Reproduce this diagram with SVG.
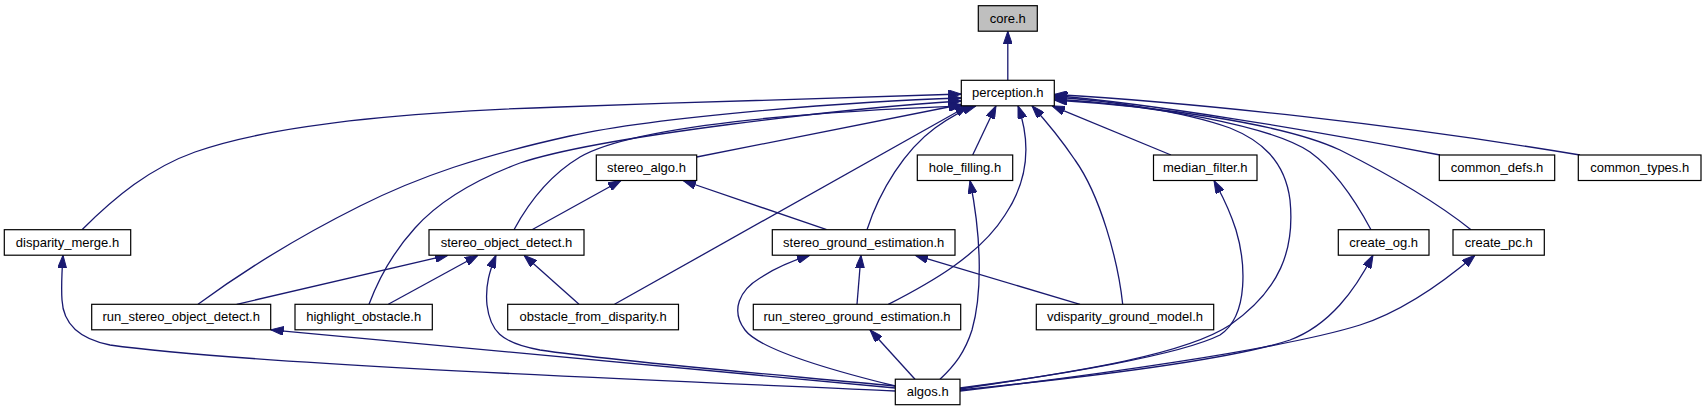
<svg xmlns="http://www.w3.org/2000/svg" width="1707" height="411" viewBox="0 0 1707 411">
<style>
.n rect{fill:#fff;stroke:#000;stroke-width:1.2}
.n.root rect{fill:#bfbfbf}
.n text{font-family:"Liberation Sans",Arial,sans-serif;font-size:13px;text-anchor:middle;fill:#000}
#edges path{fill:none;stroke:#191970;stroke-width:1.3;marker-end:url(#ah)}
</style>
<defs>
<marker id="ah" markerUnits="userSpaceOnUse" markerWidth="13" markerHeight="9" viewBox="0 0 13 9" refX="13" refY="4.5" orient="auto">
<path d="M0,0 L13,4.5 L0,9 z" fill="#191970" stroke="#191970" stroke-width="1"/>
</marker>
</defs>
<rect width="1707" height="411" fill="#fff"/>
<g id="edges">
<path d="M1007.8,80.3 L1007.8,31.2"/>
<path d="M82,229.7 C115,197 150,168 195,152 C280,122 430,111 560,107 C700,102 860,97 961.3,94"/>
<path d="M198,304.3 C250,266 300,236 360,206 C420,176 480,156 570,136 C660,116 860,101 961.3,98"/>
<path d="M369,304.3 C380,275 395,250 415,228 C440,200 480,178 520,163 C600,136 850,108 961.3,101"/>
<path d="M514,229.7 C530,200 550,175 580,157 C640,122 850,110 963,105.8"/>
<path d="M696.7,157 L961.3,104.5"/>
<path d="M614.5,304.3 L968,105.8"/>
<path d="M867,229.7 C880,190 905,150 935,128 C950,117 963,110 976,105.8"/>
<path d="M972.7,155 L996,105.8"/>
<path d="M888.3,304.3 C930,283 980,255 1005,215 C1030,178 1030,140 1018,105.8"/>
<path d="M1122.7,304.3 C1118,260 1100,195 1075,160 C1058,135 1045,120 1032,105.8"/>
<path d="M1171,155 L1052,105.8"/>
<path d="M960,389 C1050,375 1180,358 1230,325 C1280,290 1295,250 1290,200 C1285,160 1260,140 1230,128 C1180,110 1100,100 1054.3,97"/>
<path d="M1371,229.7 C1355,200 1335,170 1310,152 C1270,125 1150,105 1054.3,99"/>
<path d="M1471,229.7 C1440,205 1390,175 1340,150 C1280,122 1150,106 1054.3,100"/>
<path d="M1440,155 C1300,128 1150,104 1054.3,95.5"/>
<path d="M1580,155 C1400,125 1200,103 1054.3,94.5"/>
<path d="M532,229.7 L621,180.5"/>
<path d="M826.7,229.7 L683,180.5"/>
<path d="M236.7,304.3 L448,255.2"/>
<path d="M388.3,304.3 L478,255.2"/>
<path d="M579,304.3 L524,255.2"/>
<path d="M895.3,386 C780,375 620,362 540,350 C500,343 490,330 487,305 C485,285 490,270 496,255.2"/>
<path d="M895.3,386 C830,370 760,350 745,330 C730,310 740,290 760,278 C775,268 795,260 810,255.2"/>
<path d="M857,304.3 L861,255.2"/>
<path d="M1080,304.3 L915,255.2"/>
<path d="M915,379.2 L870,329.8"/>
<path d="M940,379.2 C955,365 965,352 972,330 C982,295 982,240 970,180.5"/>
<path d="M960,388 C1060,375 1180,355 1220,335 C1250,315 1245,260 1236,230 C1228,205 1220,192 1214,180.5"/>
<path d="M960,390 C1080,378 1230,360 1290,340 C1330,325 1355,290 1373,255.2"/>
<path d="M960,391 C1080,377 1280,350 1360,325 C1400,312 1440,285 1475,255.2"/>
<path d="M895.3,391 C700,382 250,365 110,345 C75,338 63,320 62,300 C61,285 62,270 63,255.2"/>
<path d="M895.3,388 L270.7,329.8"/>
</g>
<g id="core" class="n root"><rect x="978.3" y="5.7" width="59" height="25.5"/><text x="1007.8" y="22.7">core.h</text></g>
<g id="perception" class="n"><rect x="961.3" y="80.3" width="93" height="25.5"/><text x="1007.8" y="97.3">perception.h</text></g>
<g id="stereo_algo" class="n"><rect x="596.3" y="155" width="100.4" height="25.5"/><text x="646.5" y="172">stereo_algo.h</text></g>
<g id="hole_filling" class="n"><rect x="917.3" y="155" width="95.4" height="25.5"/><text x="965" y="172">hole_filling.h</text></g>
<g id="median_filter" class="n"><rect x="1153.5" y="155" width="103.5" height="25.5"/><text x="1205.3" y="172">median_filter.h</text></g>
<g id="common_defs" class="n"><rect x="1439.3" y="155" width="115.4" height="25.5"/><text x="1497" y="172">common_defs.h</text></g>
<g id="common_types" class="n"><rect x="1578.3" y="155" width="122.7" height="25.5"/><text x="1639.7" y="172">common_types.h</text></g>
<g id="disparity_merge" class="n"><rect x="4.3" y="229.7" width="126.4" height="25.5"/><text x="67.5" y="246.7">disparity_merge.h</text></g>
<g id="stereo_object_detect" class="n"><rect x="429" y="229.7" width="155" height="25.5"/><text x="506.5" y="246.7">stereo_object_detect.h</text></g>
<g id="stereo_ground_estimation" class="n"><rect x="772.3" y="229.7" width="182.7" height="25.5"/><text x="863.7" y="246.7">stereo_ground_estimation.h</text></g>
<g id="create_og" class="n"><rect x="1338.3" y="229.7" width="90.7" height="25.5"/><text x="1383.7" y="246.7">create_og.h</text></g>
<g id="create_pc" class="n"><rect x="1453" y="229.7" width="91.3" height="25.5"/><text x="1498.7" y="246.7">create_pc.h</text></g>
<g id="run_stereo_object_detect" class="n"><rect x="91.7" y="304.3" width="179" height="25.5"/><text x="181.2" y="321.3">run_stereo_object_detect.h</text></g>
<g id="highlight_obstacle" class="n"><rect x="295" y="304.3" width="137.3" height="25.5"/><text x="363.7" y="321.3">highlight_obstacle.h</text></g>
<g id="obstacle_from_disparity" class="n"><rect x="507.7" y="304.3" width="170.8" height="25.5"/><text x="593.1" y="321.3">obstacle_from_disparity.h</text></g>
<g id="run_stereo_ground_estimation" class="n"><rect x="753.3" y="304.3" width="207.4" height="25.5"/><text x="857" y="321.3">run_stereo_ground_estimation.h</text></g>
<g id="vdisparity_ground_model" class="n"><rect x="1036.3" y="304.3" width="177.4" height="25.5"/><text x="1125" y="321.3">vdisparity_ground_model.h</text></g>
<g id="algos" class="n"><rect x="895.3" y="379.2" width="64.7" height="25.5"/><text x="927.7" y="396.2">algos.h</text></g>
</svg>
